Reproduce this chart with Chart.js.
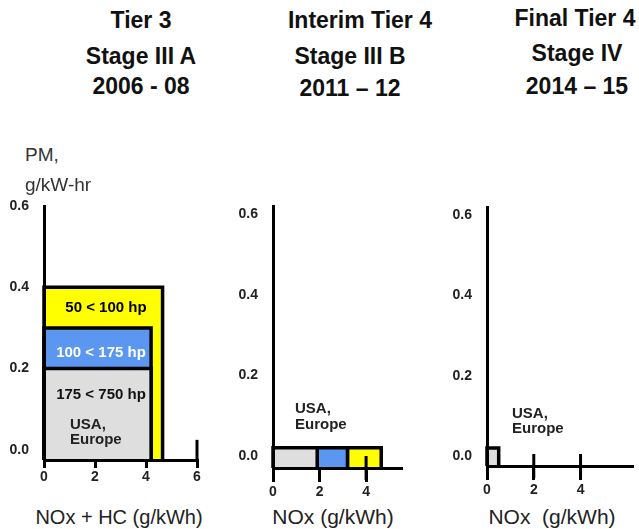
<!DOCTYPE html>
<html><head><meta charset="utf-8">
<script src="https://cdn.jsdelivr.net/npm/chart.js@4/dist/chart.umd.min.js"></script>
<style>
html,body{margin:0;padding:0;background:#fff;width:639px;height:529px;overflow:hidden;position:relative;font-family:"Liberation Sans",Arial,sans-serif;}
.t{position:absolute;white-space:pre;line-height:1;}
.h{font-weight:bold;font-size:23px;color:#111;width:200px;text-align:center;}
.b{font-weight:bold;font-size:15px;color:#222;}
.c{width:120px;text-align:center;}
.xt{font-size:20px;color:#222;width:200px;text-align:center;}
canvas{position:absolute;}
</style></head><body>
<div class="t h" style="left:41px;top:9px">Tier 3</div>
<div class="t h" style="left:41px;top:44.5px">Stage III A</div>
<div class="t h" style="left:41px;top:75px">2006 - 08</div>
<div class="t h" style="left:260px;top:8.5px">Interim Tier 4</div>
<div class="t h" style="left:250px;top:44.5px">Stage III B</div>
<div class="t h" style="left:250px;top:77px">2011 – 12</div>
<div class="t h" style="left:475px;top:7px">Final Tier 4</div>
<div class="t h" style="left:477px;top:41.5px">Stage IV</div>
<div class="t h" style="left:477px;top:74.5px">2014 – 15</div>

<canvas id="c1" width="206" height="308" style="left:4px;top:182px"></canvas>
<canvas id="c2" width="183" height="316" style="left:233px;top:182px"></canvas>
<canvas id="c3" width="200" height="313" style="left:447px;top:183px"></canvas>

<div class="t" style="left:25px;top:145px;font-size:19px;color:#333">PM,</div>
<div class="t" style="left:25px;top:175px;font-size:19px;color:#333">g/kW-hr</div>

<div class="t b c" style="left:46px;top:298.5px;color:#000">50 &lt; 100 hp</div>
<div class="t b c" style="left:41px;top:343.5px;color:#fff">100 &lt; 175 hp</div>
<div class="t b c" style="left:41px;top:385.5px;color:#111">175 &lt; 750 hp</div>
<div class="t b" style="left:70px;top:415.5px">USA,</div>
<div class="t b" style="left:70px;top:430.5px">Europe</div>
<div class="t b" style="left:295px;top:399.5px">USA,</div>
<div class="t b" style="left:295px;top:415.5px">Europe</div>
<div class="t b" style="left:512px;top:404.5px">USA,</div>
<div class="t b" style="left:512px;top:419.5px">Europe</div>

<div class="t xt" style="left:19px;top:506.5px">NOx + HC (g/kWh)</div>
<div class="t xt" style="left:233px;top:506px;font-size:21px">NOx (g/kWh)</div>
<div class="t xt" style="left:452px;top:506px;font-size:21px">NOx  (g/kWh)</div>

<script>
// ---- data ----
const pmTicks = [0, 0.2, 0.4, 0.6];
const tier3NoxTicks = [0, 2, 4, 6];
const tier4NoxTicks = [0, 2, 4];

const powerClasses = ['175 < 750 hp', '100 < 175 hp', '50 < 100 hp'];
const classColors = ['#dedede', '#5b97f0', '#ffff00'];

// Tier 3 / Stage III A
const tier3NoxStart = [0, 0, 0];
const tier3NoxEnd = [4.2, 4.2, 4.65];
const tier3PM = [0.2, 0.3, 0.4];
const tier3MarkX = [6];

// Interim Tier 4 / Stage III B
const interimNoxStart = [0, 1.9, 3.2];
const interimNoxEnd = [1.9, 3.2, 4.65];
const interimPM = [0.02, 0.02, 0.02];
const interimMarkX = [4];

// Final Tier 4 / Stage IV
const finalClasses = ['USA, Europe'];
const finalNoxStart = [0];
const finalNoxEnd = [0.5];
const finalPM = [0.02];
const finalMarkX = [2, 4];

const tickFont = {family: 'Liberation Sans', weight: 'bold', size: 14};

function rectPoints(x0, x1, top, base) {
  return [{x: x0, y: base}, {x: x0, y: top}, {x: x1, y: top}, {x: x1, y: base}];
}

function panel(id, p) {
  const datasets = [];
  datasets.push({
    label: 'marks',
    data: p.markX.map(x => ({x: x, y: p.markY})),
    showLine: false,
    pointStyle: 'line',
    pointRotation: 90,
    pointRadius: p.markR,
    pointBorderWidth: 3,
    pointBorderColor: '#000',
    borderColor: '#000',
    clip: false
  });
  p.start.forEach((s, i) => {
    datasets.push({
      label: p.classes[i],
      data: rectPoints(s, p.end[i], p.pm[i], p.yMin),
      borderColor: '#000',
      borderWidth: 3.5,
      backgroundColor: p.colors[i],
      fill: {value: p.yMin},
      pointRadius: 0,
      tension: 0,
      clip: false
    });
  });
  return new Chart(document.getElementById(id), {
    type: 'line',
    data: {datasets},
    options: {
      responsive: false,
      animation: false,
      layout: {padding: {top: 24, right: 8, left: 0, bottom: 0}},
      plugins: {legend: {display: false}, tooltip: {enabled: false}},
      scales: {
        x: {
          type: 'linear', min: 0, max: p.xMax,
          afterBuildTicks: ax => { ax.ticks = p.xTicks.map(v => ({value: v})); },
          afterFit: ax => { ax.height = 30; },
          grid: {display: true, drawOnChartArea: false, drawTicks: true, tickLength: p.tickLen, lineWidth: 3, color: '#000'},
          border: {display: true, width: 3, color: '#000', z: 1},
          ticks: {padding: p.tickPad, color: '#222', font: tickFont, maxRotation: 0, autoSkip: false, callback: v => String(v)}
        },
        y: {
          type: 'linear', min: p.yMin, max: p.yMax,
          afterBuildTicks: ax => { ax.ticks = pmTicks.map(v => ({value: v})); },
          afterFit: ax => { ax.width = 40; },
          grid: {display: false, drawTicks: false},
          border: {display: true, width: 3, color: '#000', z: 1},
          ticks: {padding: 15, color: '#222', font: tickFont, callback: v => v.toFixed(1)}
        }
      }
    }
  });
}

panel('c1', {classes: powerClasses, colors: classColors, start: tier3NoxStart, end: tier3NoxEnd, pm: tier3PM,
  markX: tier3MarkX, markY: 0, markR: 10, xTicks: tier3NoxTicks, xMax: 6, yMin: -0.025, yMax: 0.6, tickLen: 8, tickPad: 1});
panel('c2', {classes: powerClasses, colors: classColors, start: interimNoxStart, end: interimNoxEnd, pm: interimPM,
  markX: interimMarkX, markY: -0.03, markR: 12, xTicks: tier4NoxTicks, xMax: 5.5, yMin: -0.03, yMax: 0.62, tickLen: 14, tickPad: 2});
panel('c3', {classes: finalClasses, colors: [classColors[0]], start: finalNoxStart, end: finalNoxEnd, pm: finalPM,
  markX: finalMarkX, markY: -0.025, markR: 12, xTicks: tier4NoxTicks, xMax: 6.2, yMin: -0.025, yMax: 0.62, tickLen: 14, tickPad: 2});
</script>
</body></html>
